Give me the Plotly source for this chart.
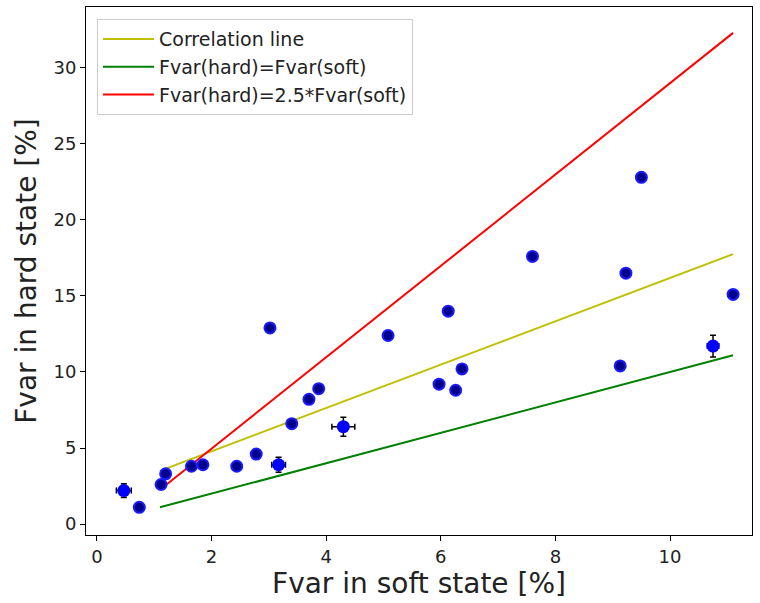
import plotly.graph_objects as go

# Dark (regular) sources
soft_dark = [0.74, 1.12, 1.20, 1.65, 1.85, 2.44, 2.78, 3.02, 3.40, 3.70, 3.87,
             5.08, 5.97, 6.13, 6.26, 6.37, 7.60, 9.13, 9.23, 9.50, 11.10]
hard_dark = [1.1, 2.6, 3.3, 3.8, 3.9, 3.8, 4.6, 12.9, 6.6, 8.2, 8.9,
             12.4, 9.2, 14.0, 8.8, 10.2, 17.6, 10.4, 16.5, 22.8, 15.1]

# Light sources with visible error bars
soft_light = [0.47, 3.17, 4.30, 10.75]
hard_light = [2.2, 3.9, 6.4, 11.7]
soft_err = [0.13, 0.12, 0.20, 0.10]
hard_err = [0.45, 0.50, 0.62, 0.72]

# Reference lines
line_x = [1.1, 11.1]
corr_y = [3.5, 17.75]
equal_y = [1.1, 11.1]
ratio_y = [2.25, 32.3]

fig = go.Figure()

fig.add_trace(go.Scatter(x=line_x, y=corr_y, mode="lines", name="Correlation line",
                         legendgroup="a", line=dict(color="#bfbf00", width=2)))
fig.add_trace(go.Scatter(x=line_x, y=equal_y, mode="lines", name="Fvar(hard)=Fvar(soft)",
                         legendgroup="b", line=dict(color="#008000", width=2)))
fig.add_trace(go.Scatter(x=line_x, y=ratio_y, mode="lines", name="Fvar(hard)=2.5*Fvar(soft)",
                         legendgroup="c", line=dict(color="#ff0000", width=2)))

fig.add_trace(go.Scatter(x=soft_dark, y=hard_dark, mode="markers", showlegend=False,
                         marker=dict(size=11, color="#00008b",
                                     line=dict(color="#1a1aff", width=2))))
fig.add_trace(go.Scatter(x=soft_light, y=hard_light, mode="markers", showlegend=False,
                         error_x=dict(type="data", array=soft_err, color="black",
                                      thickness=1.5, width=3),
                         error_y=dict(type="data", array=hard_err, color="black",
                                      thickness=1.5, width=3),
                         marker=dict(size=13, color="#0000ff",
                                     line=dict(color="#0000ff", width=0))))

axis_common = dict(showline=True, mirror=True, linecolor="black", linewidth=1,
                   ticks="outside", ticklen=5, tickcolor="black", showgrid=False,
                   zeroline=False, tickfont=dict(size=18, color="#222"))

fig.update_layout(
    width=760, height=603,
    margin=dict(l=86, r=8, t=7, b=68),
    plot_bgcolor="white", paper_bgcolor="white",
    font=dict(family="DejaVu Sans", color="#222"),
    xaxis=dict(range=[-0.19, 11.43], tickvals=[0, 2, 4, 6, 8, 10],
               title=dict(text="Fvar in soft state [%]", font=dict(size=28), standoff=5),
               **axis_common),
    yaxis=dict(range=[-0.72, 34.0], tickvals=[0, 5, 10, 15, 20, 25, 30],
               title=dict(text="Fvar in hard state [%]", font=dict(size=28), standoff=8),
               **axis_common),
    legend=dict(x=0.0165, y=0.977, xanchor="left", yanchor="top",
                bgcolor="white", bordercolor="#cccccc", borderwidth=1,
                font=dict(size=19, color="#222"), tracegroupgap=0, itemwidth=51),
)

fig.write_html("out.html")
